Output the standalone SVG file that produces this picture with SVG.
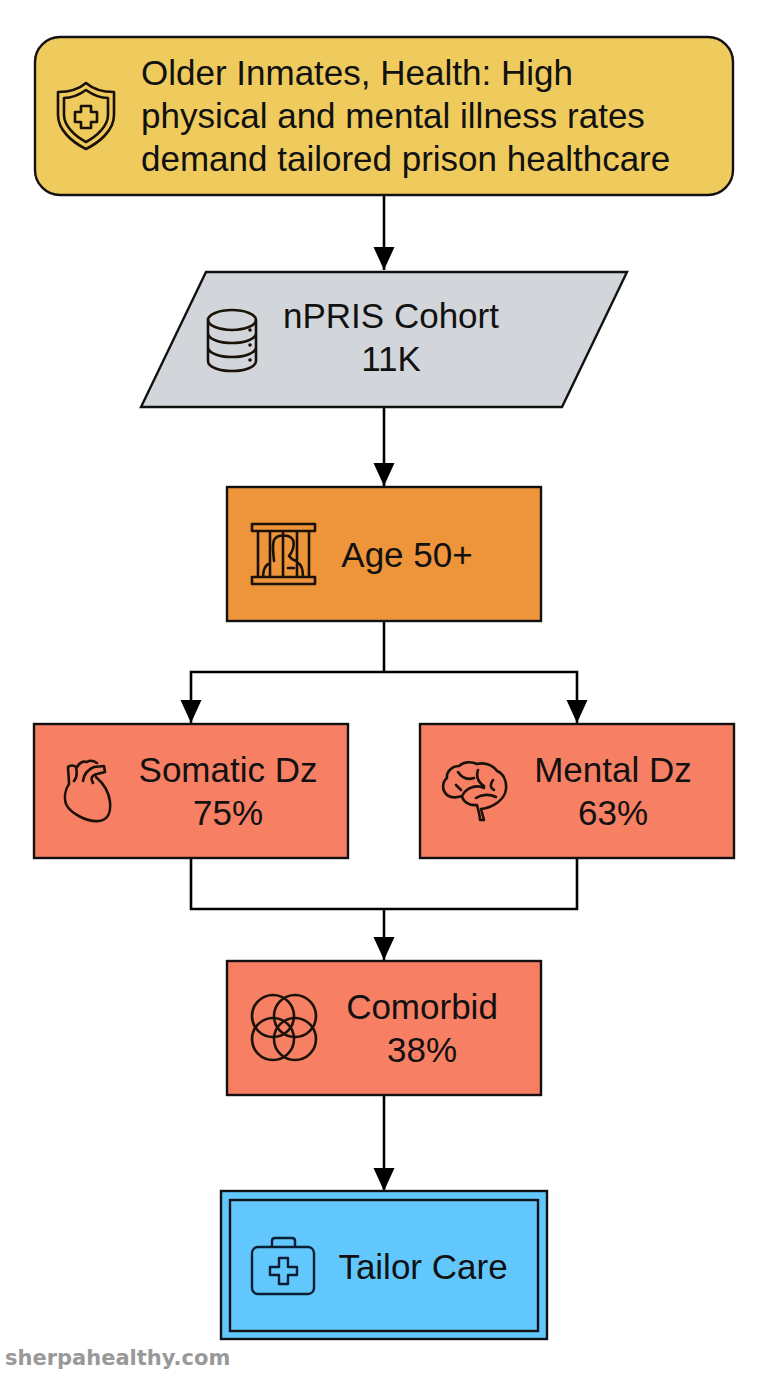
<svg xmlns="http://www.w3.org/2000/svg" width="768" height="1376" viewBox="0 0 768 1376">
<style>
.b{stroke:#111;stroke-width:2.4}
.t{font-family:"Liberation Sans",Arial,sans-serif;font-size:35px;fill:#111;text-anchor:middle}
.l{text-anchor:start}
.i{fill:none;stroke:#1a1208;stroke-width:2.6;stroke-linecap:round;stroke-linejoin:round}
.c{fill:none;stroke:#000;stroke-width:2.6}
</style>
<defs><marker id="a" markerUnits="userSpaceOnUse" markerWidth="24" markerHeight="24" refX="23" refY="12" orient="auto"><path d="M0 1.500L23 12L0 22.500Z" fill="#000"/></marker></defs>
<rect width="768" height="1376" fill="#fff"/>
<g id="connectors">
<path class="c" d="M384 195V270" marker-end="url(#a)"/>
<path class="c" d="M384 407V486" marker-end="url(#a)"/>
<path class="c" d="M384 621V672"/>
<path class="c" d="M384 672H191V723" marker-end="url(#a)"/>
<path class="c" d="M384 672H577V723" marker-end="url(#a)"/>
<path class="c" d="M191 858V909H577V858"/>
<path class="c" d="M384 909V960" marker-end="url(#a)"/>
<path class="c" d="M384 1095V1191" marker-end="url(#a)"/>
</g>
<g id="n1">
<rect class="b" x="35" y="37" width="698" height="158" rx="25" fill="#efcb5e"/>
<path class="i" d="M86 83C94 90 104 92 114 92V115C114 130 100 142 86 149C72 142 58 130 58 115V92C68 92 78 90 86 83Z"/>
<path class="i" d="M86 90C93 95 101 98 108 98V115C108 126 97 136 86 142C75 136 64 126 64 115V98C71 98 79 95 86 90Z"/>
<path class="i" d="M81 106H91V112H97V122H91V128H81V122H75V112H81Z"/>
<text class="t l" x="141" y="85">Older Inmates, Health: High</text>
<text class="t l" x="141" y="128">physical and mental illness rates</text>
<text class="t l" x="141" y="171">demand tailored prison healthcare</text>
</g>
<g id="n2">
<path class="b" d="M206 272H627L562 407H141Z" fill="#d2d5da"/>
<ellipse class="i" cx="232" cy="320" rx="24" ry="10"/>
<path class="i" d="M208 320V361C208 367 219 371 232 371S256 367 256 361V320M208 333C208 339 219 343 232 343S256 339 256 333M208 347C208 353 219 357 232 357S256 353 256 347"/>
<circle cx="250" cy="330" r="1.800" fill="#111"/><circle cx="250" cy="345" r="1.800" fill="#111"/><circle cx="250" cy="360" r="1.800" fill="#111"/>
<text class="t" x="391" y="328">nPRIS Cohort</text>
<text class="t" x="391" y="371">11K</text>
</g>
<g id="n3">
<rect class="b" x="227" y="487" width="314" height="134" fill="#ee943b"/>
<path class="i" d="M252 524H315V531H252ZM252 577H315V584H252ZM258 531V577M270 531V577M283 531V577M297 531V577M309 531V577M274 561C273 550 272 545 274 540C277 534 290 534 293 540C295 546 292 552 289 556C291 559 293 560 296 561M263 577C263 570 265 565 270 563M303 577C303 570 302 565 298 563M288 568H294"/>
<text class="t" x="407" y="567">Age 50+</text>
</g>
<g id="n4">
<rect class="b" x="34" y="724" width="314" height="134" fill="#f77f63"/>
<path class="i" d="M69 784C65 790 64 798 66 804C70 813 86 822 99 821C108 820 111 812 110 802C109 792 103 783 96 777M69 784C69 777 68 771 68 767C70 765 74 765 76 767C77 772 77 778 74 781M77 767C80 762 84 761 87 762C90 760 94 761 97 763M83 781C84 773 89 769 94 767L104 766L105 772L97 774C92 775 90 778 93 783"/>
<text class="t" x="228" y="782">Somatic Dz</text>
<text class="t" x="228" y="825">75%</text>
</g>
<g id="n5">
<rect class="b" x="420" y="724" width="314" height="134" fill="#f77f63"/>
<path class="i" d="M484 820L481 809C492 808 505 800 506 789C507 781 503 773 497 771C493 765 484 762 477 764C471 761 463 762 459 766C452 766 446 772 447 778C442 782 442 790 446 794C450 798 456 798 462 796C463 802 470 806 477 805C478 810 480 815 480 820ZM462 796C466 788 476 784 484 788M478 770C476 776 478 782 484 786M458 772C462 778 468 780 474 778M476 798C482 794 490 794 496 797M493 780C490 784 490 788 494 790M456 785L461 790"/>
<text class="t" x="613" y="782">Mental Dz</text>
<text class="t" x="613" y="825">63%</text>
</g>
<g id="n6">
<rect class="b" x="227" y="961" width="314" height="134" fill="#f77f63"/>
<circle class="i" cx="273" cy="1016" r="21"/><circle class="i" cx="295" cy="1016" r="21"/><circle class="i" cx="273" cy="1039" r="21"/><circle class="i" cx="295" cy="1039" r="21"/>
<text class="t" x="422" y="1019">Comorbid</text>
<text class="t" x="422" y="1062">38%</text>
</g>
<g id="n7">
<rect class="b" x="221" y="1191" width="326" height="148" fill="#62c7fd"/>
<rect class="b" x="230" y="1200" width="308" height="131" fill="#62c7fd"/>
<g stroke="#0b1f33" fill="none" stroke-width="2.400" stroke-linejoin="round">
<rect x="252" y="1247" width="62" height="47" rx="6"/>
<path d="M272 1247V1241Q272 1238 275 1238H292Q295 1238 295 1241V1247"/>
<path d="M279 1258H288V1267H297V1275H288V1284H279V1275H270V1267H279Z"/>
</g>
<text class="t" x="423" y="1279">Tailor Care</text>
</g>
<text x="5" y="1365" font-family="'DejaVu Sans',sans-serif" font-weight="700" font-size="21" fill="#999">sherpahealthy.com</text>
</svg>
